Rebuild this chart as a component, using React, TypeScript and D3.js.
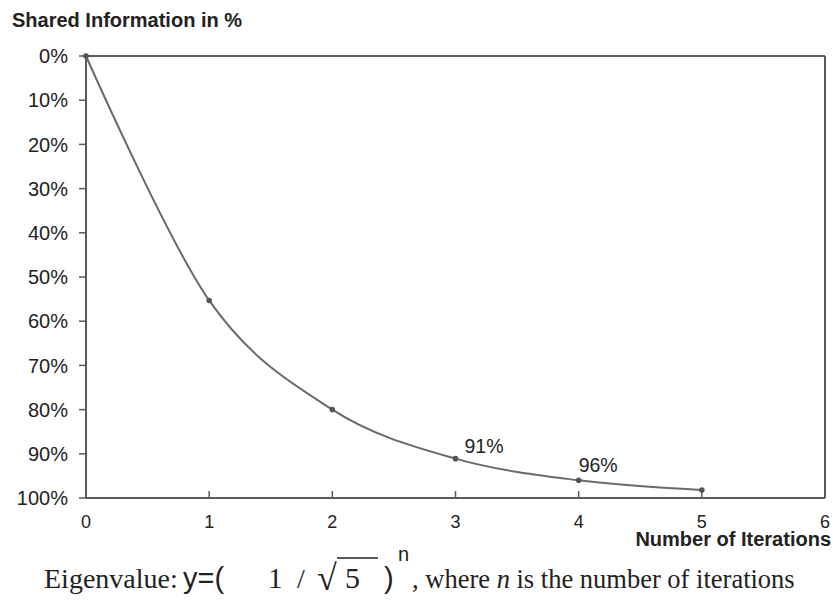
import React from "react";
import * as d3 from "d3";

const iterations = [0, 1, 2, 3, 4, 5];
const sharedInfo = [0, 55.3, 80, 91.1, 96, 98.2];
const yTicks = [0, 10, 20, 30, 40, 50, 60, 70, 80, 90, 100];
const xTicks = [0, 1, 2, 3, 4, 5, 6];
const annotationIndex = [3, 4];
const annotationLabels = ["91%", "96%"];

const W = 833;
const H = 601;
const left = 86;
const right = 825;
const top = 56;
const bottom = 498;

export default function App() {
  const x = d3.scaleLinear().domain([0, 6]).range([left, right]);
  const y = d3.scaleLinear().domain([0, 100]).range([top, bottom]);
  const pts = iterations.map((n, i) => [n, sharedInfo[i]] as [number, number]);
  const line = d3
    .line<[number, number]>()
    .x((d) => x(d[0]))
    .y((d) => y(d[1]))
    .curve(d3.curveCatmullRom.alpha(0));
  const axisColor = "#5a5a5a";
  const sans = "Arial, 'Liberation Sans', Helvetica, sans-serif";
  const serif = "'Times New Roman', 'Liberation Serif', serif";
  const annOffsets = [
    [9, -6],
    [0, -8],
  ];
  return (
    <svg
      width={W}
      height={H}
      style={{ position: "absolute", left: 0, top: 0, background: "#fff" }}
    >
      <rect x={0} y={0} width={W} height={H} fill="#fff" />
      <text x={12} y={27} fontFamily={sans} fontWeight="bold" fontSize={20} fill="#222">
        Shared Information in %
      </text>
      {/* frame */}
      <line x1={left} x2={right} y1={top} y2={top} stroke={axisColor} strokeWidth={2} />
      <line x1={right} x2={right} y1={top} y2={bottom} stroke={axisColor} strokeWidth={2} />
      <line x1={left} x2={left} y1={top} y2={bottom} stroke={axisColor} strokeWidth={2} />
      <line x1={left} x2={right} y1={bottom} y2={bottom} stroke={axisColor} strokeWidth={2} />
      {yTicks.map((t) => (
        <g key={"y" + t}>
          <line x1={left - 7} x2={left} y1={y(t)} y2={y(t)} stroke={axisColor} strokeWidth={1.5} />
          <text
            x={68}
            y={y(t)}
            dy="0.36em"
            textAnchor="end"
            fontFamily={sans}
            fontSize={20}
            fill="#222"
          >
            {t + "%"}
          </text>
        </g>
      ))}
      {xTicks.map((t) => (
        <g key={"x" + t}>
          {t > 0 && t < 6 && (
            <line x1={x(t)} x2={x(t)} y1={bottom - 7} y2={bottom} stroke={axisColor} strokeWidth={1.5} />
          )}
          <text
            x={x(t)}
            y={528}
            textAnchor="middle"
            fontFamily={sans}
            fontSize={18}
            fill="#222"
          >
            {t}
          </text>
        </g>
      ))}
      <text x={831} y={546} textAnchor="end" fontFamily={sans} fontWeight="bold" fontSize={20} fill="#222">
        Number of Iterations
      </text>
      <path d={line(pts) || ""} fill="none" stroke="#6a6a6a" strokeWidth={2} />
      {pts.map((d, i) => (
        <circle key={"p" + i} cx={x(d[0])} cy={y(d[1])} r={2.8} fill="#555" />
      ))}
      {annotationIndex.map((ai, k) => (
        <text
          key={annotationLabels[k]}
          x={x(iterations[ai]) + annOffsets[k][0]}
          y={y(sharedInfo[ai]) + annOffsets[k][1]}
          fontFamily={sans}
          fontSize={19.5}
          fill="#222"
        >
          {annotationLabels[k]}
        </text>
      ))}
      {/* formula */}
      <text x={44} y={588} fontFamily={serif} fontSize={28} fill="#222">
        Eigenvalue:
      </text>
      <text x={183} y={588} fontFamily={sans} fontSize={29} fill="#222">
        y=(
      </text>
      <text x={268} y={588} fontFamily={serif} fontSize={29} fill="#222">
        1
      </text>
      <text x={297} y={588} fontFamily={serif} fontSize={28} fill="#222">
        /
      </text>
      <text x={317} y={590} fontFamily={serif} fontSize={36} fill="#222">
        √
      </text>
      <line x1={337} x2={378} y1={558} y2={558} stroke="#222" strokeWidth={1.6} />
      <text x={345} y={588} fontFamily={serif} fontSize={30} fill="#222">
        5
      </text>
      <text x={384} y={588} fontFamily={sans} fontSize={29} fill="#222">
        )
      </text>
      <text x={398} y={561} fontFamily={sans} fontSize={20} fill="#222">
        n
      </text>
      <text x={412} y={588} fontFamily={serif} fontSize={26.5} fill="#222">
        , where <tspan fontStyle="italic">n</tspan> is the number of iterations
      </text>
    </svg>
  );
}
